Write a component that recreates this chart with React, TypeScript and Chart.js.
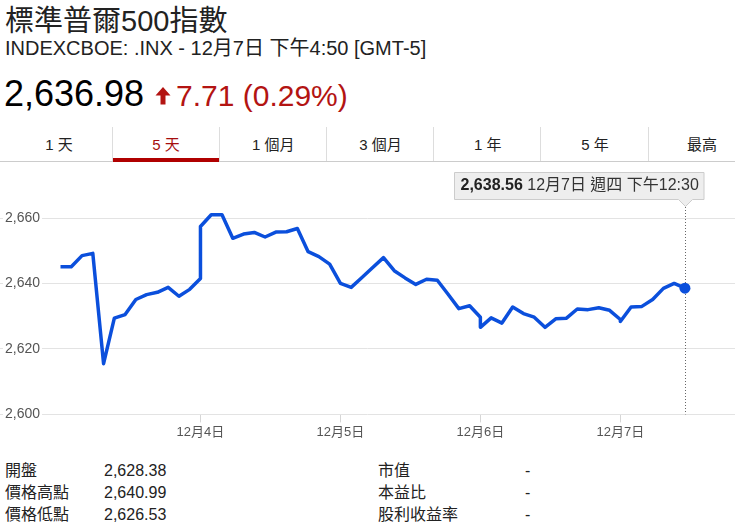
import React, { useEffect, useRef } from 'react';
import { Chart, registerables } from 'chart.js';

Chart.register(...registerables);

// ---- data ----
const dayTickLabels = ['12月4日', '12月5日', '12月6日', '12月7日'];
const tickSlots = [13, 26, 39, 52];
const yTickValues = [2600, 2620, 2640, 2660];
const slotsPerDay = 13; // 30-minute slots, 9:30 -> 16:00

const dec1 = [2645.1, 2645.1, 2648.5, 2649.2, 2615.5, 2629.4, 2630.5, 2635.1, 2636.6, 2637.3, 2638.8, 2636.1, 2638.2, 2641.5];
const dec4 = [2657.4, 2661.0, 2661.0, 2653.8, 2655.1, 2655.6, 2654.2, 2655.7, 2655.8, 2656.8, 2649.7, 2648.2, 2645.9, 2640.0];
const dec5 = [2640.0, 2638.8, 2641.8, 2644.9, 2647.9, 2643.9, 2641.7, 2639.7, 2641.3, 2641.0, 2636.7, 2632.3, 2633.2, 2629.7];
const dec6 = [2626.6, 2629.5, 2627.9, 2632.8, 2630.8, 2629.7, 2626.6, 2629.2, 2629.4, 2632.2, 2632.0, 2632.6, 2631.8, 2629.0];
const dec7 = [2628.4, 2632.8, 2633.0, 2635.1, 2638.5, 2640.0, 2638.56];
const sessions = [dec1, dec4, dec5, dec6, dec7];

const tabs = ['1 天', '5 天', '1 個月', '3 個月', '1 年', '5 年', '最高'];
const activeTab = 1;

const statLabelsLeft = ['開盤', '價格高點', '價格低點'];
const statValuesLeft = ['2,628.38', '2,640.99', '2,626.53'];
const statLabelsRight = ['市值', '本益比', '股利收益率'];
const statValuesRight = ['-', '-', '-'];

const tooltipValue = '2,638.56';
const tooltipText = ' 12月7日 週四 下午12:30';

const FONT = "'Liberation Sans', Arial, 'Noto Sans CJK TC', sans-serif";
const LINE_BLUE = '#0b4fdc';

const calloutPlugin = {
  id: 'callout',
  beforeDatasetsDraw(chart: any) {
    const meta = chart.getDatasetMeta(0);
    const pt = meta.data[meta.data.length - 1];
    const ctx = chart.ctx;
    const x = Math.round(pt.x) + 0.5;
    ctx.save();
    ctx.strokeStyle = '#666';
    ctx.lineWidth = 1;
    ctx.setLineDash([1, 2]);
    ctx.beginPath();
    ctx.moveTo(x, 42);
    ctx.lineTo(x, chart.chartArea.bottom);
    ctx.stroke();
    ctx.restore();
  },
  afterDraw(chart: any) {
    const meta = chart.getDatasetMeta(0);
    const pt = meta.data[meta.data.length - 1];
    const ctx = chart.ctx;
    const px = Math.round(pt.x) + 0.5;
    ctx.save();
    ctx.font = `bold 16px ${FONT}`;
    const w1 = ctx.measureText(tooltipValue).width;
    ctx.font = `16px ${FONT}`;
    const w2 = ctx.measureText(tooltipText).width;
    const pad = 6;
    const right = px + 18.5;
    const left = Math.round(right - (w1 + w2 + pad * 2)) + 0.5;
    const top = 7.5;
    const bottom = 34.5;
    ctx.fillStyle = '#eeeeee';
    ctx.strokeStyle = '#cccccc';
    ctx.lineWidth = 1;
    ctx.beginPath();
    ctx.moveTo(left, top);
    ctx.lineTo(right, top);
    ctx.lineTo(right, bottom);
    ctx.lineTo(px + 7, bottom);
    ctx.lineTo(px, bottom + 7);
    ctx.lineTo(px - 7, bottom);
    ctx.lineTo(left, bottom);
    ctx.closePath();
    ctx.fill();
    ctx.stroke();
    ctx.fillStyle = '#222';
    ctx.textBaseline = 'alphabetic';
    ctx.font = `bold 16px ${FONT}`;
    ctx.fillText(tooltipValue, left + pad, 25);
    ctx.fillStyle = '#333';
    ctx.font = `16px ${FONT}`;
    ctx.fillText(tooltipText, left + pad + w1, 25);
    ctx.restore();
  },
};

function ChartCanvas() {
  const ref = useRef<HTMLCanvasElement>(null);
  useEffect(() => {
    const points: { x: number; y: number }[] = [];
    sessions.forEach((vals, d) => {
      vals.forEach((v, i) => points.push({ x: d * slotsPerDay + i, y: v }));
    });
    const last = points.length - 1;
    const chart = new Chart(ref.current!, {
      type: 'line',
      data: {
        datasets: [
          {
            data: points,
            borderColor: LINE_BLUE,
            backgroundColor: LINE_BLUE,
            borderWidth: 3.5,
            borderJoinStyle: 'round',
            tension: 0,
            clip: false as any,
            pointRadius: (c: any) => (c.dataIndex === last ? 5.5 : 0),
            pointBorderWidth: 0,
            pointBackgroundColor: LINE_BLUE,
          },
        ],
      },
      options: {
        animation: false,
        responsive: false,
        devicePixelRatio: 1,
        events: [],
        layout: { autoPadding: false, padding: { top: 53, left: 0, right: 0, bottom: 0 } },
        plugins: {
          legend: { display: false },
          tooltip: { enabled: false },
        },
        scales: {
          x: {
            type: 'linear',
            min: -5.62,
            max: 62.65,
            afterBuildTicks: (axis: any) => {
              axis.ticks = tickSlots.map((v) => ({ value: v }));
            },
            ticks: {
              autoSkip: false,
              maxRotation: 0,
              padding: 2,
              color: '#555',
              font: { size: 13, family: FONT },
              callback: (_v: any, i: number) => dayTickLabels[i],
            },
            grid: { drawOnChartArea: false, drawTicks: true, tickLength: 8, color: '#d6d6d6' },
            border: { display: false },
          },
          y: {
            type: 'linear',
            min: 2600,
            max: 2660,
            afterBuildTicks: (axis: any) => {
              axis.ticks = yTickValues.map((v) => ({ value: v }));
            },
            afterFit: (axis: any) => {
              axis.width = 0;
            },
            ticks: {
              mirror: true,
              padding: 5,
              color: '#555',
              font: { size: 14, family: FONT },
              callback: (v: any) => Number(v).toLocaleString('en-US'),
              showLabelBackdrop: true,
              backdropColor: '#ffffff',
              backdropPadding: 2,
            } as any,
            grid: { drawTicks: false, color: '#e3e3e3' },
            border: { display: false },
          },
        },
      },
      plugins: [calloutPlugin],
    });
    return () => chart.destroy();
  }, []);
  return (
    <canvas
      ref={ref}
      width={735}
      height={277}
      style={{ position: 'absolute', left: 0, top: 165, display: 'block' }}
    />
  );
}

const abs = (left: number, top: number, size: number, extra: any = {}) => ({
  position: 'absolute' as const,
  left,
  top,
  fontSize: size,
  lineHeight: `${size}px`,
  whiteSpace: 'nowrap' as const,
  fontFamily: FONT,
  ...extra,
});

export default function App() {
  const tabW = 107.2;
  const tabX0 = 5.3;
  return (
    <div style={{ position: 'absolute', left: 0, top: 0, width: 735, height: 529, background: '#fff', overflow: 'hidden', fontFamily: FONT }}>
      <div style={abs(5, 6.5, 29, { color: '#222' })}>標準普爾500指數</div>
      <div style={abs(5, 38, 20, { color: '#222' })}>INDEXCBOE: .INX - 12月7日 下午4:50 [GMT-5]</div>
      <div style={abs(4, 75.5, 36, { color: '#000' })}>2,636.98</div>
      <svg width={18} height={20} style={{ position: 'absolute', left: 155, top: 87 }}>
        <path d="M8 0 L15.5 8.5 L10.5 8.5 L10.5 17.5 L5.5 17.5 L5.5 8.5 L0.5 8.5 Z" fill="#b31412" />
      </svg>
      <div style={abs(176, 80.5, 30, { color: '#b31412' })}>7.71 (0.29%)</div>

      {tabs.map((t, i) => (
        <div
          key={t}
          style={abs(tabX0 + i * tabW, 137, 15, {
            width: tabW,
            textAlign: 'center',
            color: i === activeTab ? '#a50e0e' : '#222',
          })}
        >
          {t}
        </div>
      ))}
      {tabs.slice(1).map((t, i) => (
        <div
          key={'sep' + t}
          style={{ position: 'absolute', left: Math.round(tabX0 + (i + 1) * tabW) - 1, top: 127, width: 1, height: 35, background: '#dddddd' }}
        />
      ))}
      <div style={{ position: 'absolute', left: 0, top: 161, width: 735, height: 1, background: '#cccccc' }} />
      <div style={{ position: 'absolute', left: Math.round(tabX0 + activeTab * tabW), top: 158, width: Math.round(tabW) - 1, height: 4, background: '#b00000' }} />

      <ChartCanvas />

      {statLabelsLeft.map((l, i) => (
        <div key={l} style={abs(5, 462.5 + i * 22, 16, { color: '#222' })}>{l}</div>
      ))}
      {statValuesLeft.map((v, i) => (
        <div key={'v' + i} style={abs(104, 462.5 + i * 22, 16, { color: '#222' })}>{v}</div>
      ))}
      {statLabelsRight.map((l, i) => (
        <div key={l} style={abs(378, 462.5 + i * 22, 16, { color: '#222' })}>{l}</div>
      ))}
      {statValuesRight.map((v, i) => (
        <div key={'r' + i} style={abs(525, 462.5 + i * 22, 16, { color: '#222' })}>{v}</div>
      ))}
    </div>
  );
}
